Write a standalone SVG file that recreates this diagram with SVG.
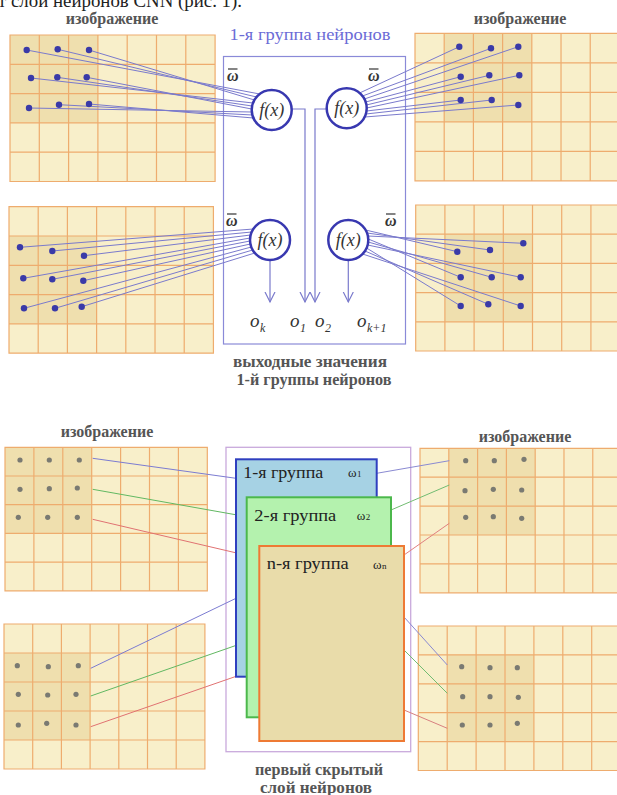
<svg xmlns="http://www.w3.org/2000/svg" width="617" height="795" viewBox="0 0 617 795" font-family="Liberation Serif, DejaVu Serif, serif">
  <style>
    .cell { fill: #f8efca; }
    .hl { fill: #efdfae; }
    .gl { fill: none; stroke: #eeac6e; stroke-width: 1.2; }
    .bdot { fill: #3a3aa8; }
    .gdot { fill: #7a7a72; }
    .wl { stroke: #7a7acc; stroke-width: 1; fill: none; }
    .neuron { fill: #ffffff; stroke: #3838b0; stroke-width: 2.5; }
    .fx { font-style: italic; font-size: 18px; fill: #333; text-anchor: middle; }
    .om { font-style: italic; font-weight: bold; font-size: 16px; fill: #333; }
    .ov { stroke: #333; stroke-width: 1.2; }
    .cap { font-weight: bold; font-size: 16px; fill: #555; text-anchor: middle; }
    .out { font-style: italic; font-size: 19px; fill: #333; }
    .sub { font-style: italic; font-size: 12px; fill: #333; }
    .grp { font-size: 17px; fill: #222; }
    .w { font-size: 13px; fill: #222; }
    .wsub { font-size: 9px; fill: #222; }
    .arr { stroke: #7a7acc; stroke-width: 1.2; fill: none; marker-end: url(#open); }
  </style>
  <defs>
    <marker id="open" viewBox="0 0 12 12" refX="10" refY="6" markerWidth="12" markerHeight="12" markerUnits="userSpaceOnUse" orient="auto">
      <path d="M0,1 L10,6 L0,11" fill="none" stroke="#7a7acc" stroke-width="1.2"/>
    </marker>
    <rect id="gbg" class="cell" width="203" height="145"/>
    <path id="glines" class="gl" d="M0,0H203V145H0Z M29,0V145 M58,0V145 M87,0V145 M116,0V145 M145,0V145 M174,0V145 M0,29H203 M0,58H203 M0,87H203 M0,116H203"/>
  </defs>

  <rect width="617" height="795" fill="#ffffff"/>

  <!-- running text line above the figure -->
  <text x="-2" y="7" font-size="18.5" fill="#222" textLength="244" lengthAdjust="spacingAndGlyphs">т слой нейронов CNN (рис. 1).</text>

  <!-- ===== upper figure: one neuron group ===== -->
  <g id="img-tl">
    <text class="cap" x="112" y="24">изображение</text>
    <g transform="translate(10,35) scale(1.0103)">
      <use href="#gbg"/><rect class="hl" x="0" y="0" width="87" height="87"/><use href="#glines"/>
    </g>
  </g>
  <g id="img-tr">
    <text class="cap" x="520" y="24">изображение</text>
    <g transform="translate(415,33.3) scale(1.007,1.017)">
      <use href="#gbg"/><rect class="hl" x="29" y="0" width="87" height="87"/><use href="#glines"/>
    </g>
  </g>
  <g id="img-ml">
    <g transform="translate(9,206.7) scale(1.007,1.010)">
      <use href="#gbg"/><rect class="hl" x="0" y="29" width="87" height="87"/><use href="#glines"/>
    </g>
  </g>
  <g id="img-mr">
    <g transform="translate(415.7,205) scale(1.007)">
      <use href="#gbg"/><rect class="hl" x="29" y="29" width="87" height="87"/><use href="#glines"/>
    </g>
  </g>

  <g id="group1-frame">
    <text x="310" y="40" font-size="16.5" fill="#6b6bd6" text-anchor="middle" textLength="161" lengthAdjust="spacingAndGlyphs">1-я группа нейронов</text>
    <rect x="223.5" y="56.5" width="182" height="287.5" fill="none" stroke="#8a8ad8" stroke-width="1.2"/>
  </g>

  <!-- ===== lower figure: first hidden layer ===== -->
  <g id="img-bl1">
    <text class="cap" x="107" y="437">изображение</text>
    <g transform="translate(5,447.3) scale(0.9966,0.9897)">
      <use href="#gbg"/><rect class="hl" x="0" y="0" width="87" height="87"/><use href="#glines"/>
    </g>
  </g>
  <g id="img-br1">
    <text class="cap" x="525" y="442">изображение</text>
    <g transform="translate(420,448.3) scale(0.993,0.9966)">
      <use href="#gbg"/><rect class="hl" x="29" y="0" width="87" height="87"/><use href="#glines"/>
    </g>
  </g>
  <g id="img-bl2">
    <g transform="translate(4,624) scale(0.9897,1)">
      <use href="#gbg"/><rect class="hl" x="0" y="29" width="87" height="87"/><use href="#glines"/>
    </g>
  </g>
  <g id="img-br2">
    <g transform="translate(418.3,626) scale(0.9966)">
      <use href="#gbg"/><rect class="hl" x="29" y="29" width="87" height="87"/><use href="#glines"/>
    </g>
  </g>

  <g id="layer-frame">
    <rect x="226" y="447.3" width="184.7" height="304.4" fill="none" stroke="#c9a9dc" stroke-width="1.3"/>
  </g>

  <!-- connectors -->
  <g id="connectors">
    <!-- weights into top-left neuron -->
    <path class="wl" d="M26.7,50L259.7,94 M57.7,49.3L256.5,97 M89,50L254.4,100 M31,78L253,103 M57.3,77.3L252.1,106 M86.7,77.3L251.7,109 M29,108L251.8,112 M59,104.7L252.3,115 M89,104L253.4,118"/>
    <!-- weights into top-right neuron -->
    <path class="wl" d="M459.3,46.7L359.6,93 M491,48.3L362.5,96 M518.3,46.7L364.4,99 M460.7,76.7L365.7,102 M489.3,75.3L366.4,105 M519.3,75.3L366.7,108 M460.7,100L366.5,111 M491.7,100L365.9,114 M518.3,105L364.7,117"/>
    <!-- weights into lower-left neuron -->
    <path class="wl" d="M20,247.3L253.3,229 M52.3,251L251.7,232 M84,255.7L250.6,235 M23.3,278.3L250.1,238 M52.3,279.3L250,241 M83.3,280.7L250.4,244 M24,308.3L251.3,247 M55,308.3L252.7,250 M81.7,306.7L254.8,253"/>
    <!-- weights into lower-right neuron -->
    <path class="wl" d="M457.3,251.7L365.6,230 M490,250L367,233 M523.3,243.3L367.9,236 M460.7,277.3L368.3,239 M491.7,277.3L368.2,242 M520.7,277.3L367.7,245 M460.7,306L366.6,248 M488.3,304.3L365,251 M520.7,306L362.6,254"/>
    <!-- neuron outputs -->
    <path class="arr" d="M291.7,109H305V302"/>
    <path class="arr" d="M326.7,109H315V302"/>
    <path class="arr" d="M270,260V302"/>
    <path class="arr" d="M348.3,260V302"/>
    <!-- receptive fields to the groups -->
    <path d="M92.7,458.3L236,478.3" stroke="#7c7cd2" stroke-width="1" fill="none"/>
    <path d="M92.7,489.3L246.7,516.7" stroke="#62b862" stroke-width="1" fill="none"/>
    <path d="M92.7,519.3L259.3,558.3" stroke="#e07272" stroke-width="1" fill="none"/>
    <path d="M90.7,668.3L236,598.3" stroke="#7c7cd2" stroke-width="1" fill="none"/>
    <path d="M90.7,696L246.7,641.7" stroke="#62b862" stroke-width="1" fill="none"/>
    <path d="M90.7,726.7L259.3,668.3" stroke="#e07272" stroke-width="1" fill="none"/>
    <path d="M376.7,473.3L449.3,460.7" stroke="#8a8ad2" stroke-width="1" fill="none"/>
    <path d="M391,510L449.3,485" stroke="#72bc72" stroke-width="1" fill="none"/>
    <path d="M404,555L449.3,523.3" stroke="#e08080" stroke-width="1" fill="none"/>
    <path d="M404,617L447.3,665" stroke="#8a8ad2" stroke-width="1" fill="none"/>
    <path d="M404,650L447.3,693.3" stroke="#72bc72" stroke-width="1" fill="none"/>
    <path d="M404,710L447.3,728.3" stroke="#d88080" stroke-width="1" fill="none"/>
  </g>

  <!-- input pixels -->
  <g id="px-tl" class="bdot">
    <circle cx="26.7" cy="50" r="3.2"/><circle cx="57.7" cy="49.3" r="3.2"/><circle cx="89" cy="50" r="3.2"/>
    <circle cx="31" cy="78" r="3.2"/><circle cx="57.3" cy="77.3" r="3.2"/><circle cx="86.7" cy="77.3" r="3.2"/>
    <circle cx="29" cy="108" r="3.2"/><circle cx="59" cy="104.7" r="3.2"/><circle cx="89" cy="104" r="3.2"/>
  </g>
  <g id="px-tr" class="bdot">
    <circle cx="459.3" cy="46.7" r="3.2"/><circle cx="491" cy="48.3" r="3.2"/><circle cx="518.3" cy="46.7" r="3.2"/>
    <circle cx="460.7" cy="76.7" r="3.2"/><circle cx="489.3" cy="75.3" r="3.2"/><circle cx="519.3" cy="75.3" r="3.2"/>
    <circle cx="460.7" cy="100" r="3.2"/><circle cx="491.7" cy="100" r="3.2"/><circle cx="518.3" cy="105" r="3.2"/>
  </g>
  <g id="px-ml" class="bdot">
    <circle cx="20" cy="247.3" r="3.2"/><circle cx="52.3" cy="251" r="3.2"/><circle cx="84" cy="255.7" r="3.2"/>
    <circle cx="23.3" cy="278.3" r="3.2"/><circle cx="52.3" cy="279.3" r="3.2"/><circle cx="83.3" cy="280.7" r="3.2"/>
    <circle cx="24" cy="308.3" r="3.2"/><circle cx="55" cy="308.3" r="3.2"/><circle cx="81.7" cy="306.7" r="3.2"/>
  </g>
  <g id="px-mr" class="bdot">
    <circle cx="523.3" cy="243.3" r="3.2"/><circle cx="457.3" cy="251.7" r="3.2"/><circle cx="490" cy="250" r="3.2"/>
    <circle cx="460.7" cy="277.3" r="3.2"/><circle cx="491.7" cy="277.3" r="3.2"/><circle cx="520.7" cy="277.3" r="3.2"/>
    <circle cx="460.7" cy="306" r="3.2"/><circle cx="488.3" cy="304.3" r="3.2"/><circle cx="520.7" cy="306" r="3.2"/>
  </g>
  <g id="px-bl1" class="gdot">
    <circle cx="20" cy="460" r="2.6"/><circle cx="49.3" cy="460" r="2.6"/><circle cx="79.3" cy="460" r="2.6"/>
    <circle cx="20" cy="489.3" r="2.6"/><circle cx="49.3" cy="488.7" r="2.6"/><circle cx="77.3" cy="488" r="2.6"/>
    <circle cx="18.3" cy="517.3" r="2.6"/><circle cx="47.7" cy="517.3" r="2.6"/><circle cx="77.3" cy="517.3" r="2.6"/>
  </g>
  <g id="px-br1" class="gdot">
    <circle cx="465.7" cy="460.7" r="2.6"/><circle cx="494.3" cy="460.7" r="2.6"/><circle cx="524" cy="459.3" r="2.6"/>
    <circle cx="465" cy="490.7" r="2.6"/><circle cx="493.3" cy="489.3" r="2.6"/><circle cx="521.7" cy="490" r="2.6"/>
    <circle cx="465.7" cy="517.3" r="2.6"/><circle cx="493.3" cy="516.7" r="2.6"/><circle cx="521.7" cy="518.3" r="2.6"/>
  </g>
  <g id="px-bl2" class="gdot">
    <circle cx="17.3" cy="665.7" r="2.6"/><circle cx="48.3" cy="666.7" r="2.6"/><circle cx="78.3" cy="665.7" r="2.6"/>
    <circle cx="18.3" cy="694.3" r="2.6"/><circle cx="47.7" cy="695" r="2.6"/><circle cx="76" cy="694.3" r="2.6"/>
    <circle cx="18.3" cy="725" r="2.6"/><circle cx="46.7" cy="723.3" r="2.6"/><circle cx="76" cy="725" r="2.6"/>
  </g>
  <g id="px-br2" class="gdot">
    <circle cx="461.7" cy="666.7" r="2.6"/><circle cx="490" cy="667.7" r="2.6"/><circle cx="517.3" cy="667.7" r="2.6"/>
    <circle cx="462.7" cy="696.7" r="2.6"/><circle cx="490" cy="696.7" r="2.6"/><circle cx="518.3" cy="697.3" r="2.6"/>
    <circle cx="462.3" cy="725" r="2.6"/><circle cx="490" cy="725" r="2.6"/><circle cx="517.3" cy="723.3" r="2.6"/>
  </g>

  <!-- neurons -->
  <g id="neuron-tl">
    <circle class="neuron" cx="271.7" cy="110" r="20"/>
    <text class="fx" x="271.7" y="116">f(x)</text>
    <text class="om" x="227" y="81">ω</text><line class="ov" x1="228" y1="69" x2="237.5" y2="69"/>
  </g>
  <g id="neuron-tr">
    <circle class="neuron" cx="346.7" cy="108.3" r="20"/>
    <text class="fx" x="346.7" y="114.3">f(x)</text>
    <text class="om" x="368" y="81">ω</text><line class="ov" x1="369" y1="69" x2="378.5" y2="69"/>
  </g>
  <g id="neuron-bl">
    <circle class="neuron" cx="270" cy="240" r="20"/>
    <text class="fx" x="270" y="246">f(x)</text>
    <text class="om" x="226" y="226">ω</text><line class="ov" x1="227" y1="214" x2="236.5" y2="214"/>
  </g>
  <g id="neuron-br">
    <circle class="neuron" cx="348.3" cy="240" r="20"/>
    <text class="fx" x="348.3" y="246">f(x)</text>
    <text class="om" x="385" y="226">ω</text><line class="ov" x1="386" y1="214" x2="395.5" y2="214"/>
  </g>

  <!-- output values -->
  <g id="outputs">
    <text class="out" x="250" y="327">o</text><text class="sub" x="260" y="332">k</text>
    <text class="out" x="290" y="327">o</text><text class="sub" x="300" y="332">1</text>
    <text class="out" x="315" y="327">o</text><text class="sub" x="325" y="332">2</text>
    <text class="out" x="357" y="327">o</text><text class="sub" x="367" y="332">k+1</text>
    <text class="cap" x="310" y="367" textLength="154" lengthAdjust="spacingAndGlyphs">выходные значения</text>
    <text class="cap" x="314" y="385" textLength="155" lengthAdjust="spacingAndGlyphs">1-й группы нейронов</text>
  </g>

  <!-- feature groups of the hidden layer -->
  <g id="group-1">
    <rect x="236" y="459.3" width="140.7" height="217.4" fill="#a6d2e4" stroke="#2f3fbf" stroke-width="2"/>
    <text class="grp" x="243.3" y="477.7" textLength="80" lengthAdjust="spacingAndGlyphs">1-я группа</text>
    <text class="w" x="348" y="477">ω</text><text class="wsub" x="357" y="477">1</text>
  </g>
  <g id="group-2">
    <rect x="246.7" y="497.3" width="144.3" height="220" fill="#b4f2ae" stroke="#4cb84c" stroke-width="2"/>
    <text class="grp" x="254.3" y="521" textLength="82" lengthAdjust="spacingAndGlyphs">2-я группа</text>
    <text class="w" x="356.7" y="520">ω</text><text class="wsub" x="365.7" y="520">2</text>
  </g>
  <g id="group-n">
    <rect x="259.3" y="546" width="144.7" height="195" fill="#e9dcaa" stroke="#ee7a34" stroke-width="2"/>
    <text class="grp" x="266.7" y="569.3" textLength="82" lengthAdjust="spacingAndGlyphs">n-я группа</text>
    <text class="w" x="373" y="569">ω</text><text class="wsub" x="382" y="569">n</text>
  </g>

  <g id="layer-caption">
    <text class="cap" x="319" y="775" textLength="128" lengthAdjust="spacingAndGlyphs">первый скрытый</text>
    <text class="cap" x="316" y="793" textLength="112" lengthAdjust="spacingAndGlyphs">слой нейронов</text>
  </g>
</svg>
